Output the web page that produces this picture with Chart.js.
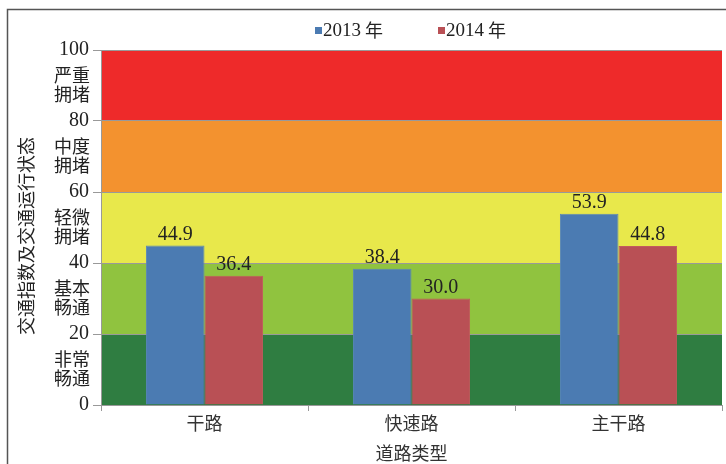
<!DOCTYPE html>
<html>
<head>
<meta charset="utf-8">
<script src="https://cdn.jsdelivr.net/npm/chart.js@4.4.1/dist/chart.umd.min.js"></script>
<style>
  html, body { margin: 0; padding: 0; background: #fff; }
  #wrap { width: 726px; height: 464px; position: relative; }
</style>
</head>
<body>
<div id="wrap"><canvas id="myChart" width="726" height="464"></canvas></div>
<script>
const roadTypes = ['干路', '快速路', '主干路'];
const index2013 = [44.9, 38.4, 53.9];
const index2014 = [36.4, 30.0, 44.8];
const seriesNames = ['2013 年', '2014 年'];
const yTicks = [0, 20, 40, 60, 80, 100];
// traffic state bands, bottom to top
const bandNames = [['非常', '畅通'], ['基本', '畅通'], ['轻微', '拥堵'], ['中度', '拥堵'], ['严重', '拥堵']];
const bandColors = ['#2f7d41', '#90c33f', '#e8e84b', '#f3922f', '#ee2a2a'];

const serif = "'Liberation Serif', 'Times New Roman', 'Noto Sans CJK SC', serif";
const cjk = "'Noto Sans CJK SC', 'Noto Sans', sans-serif";

const bandPlugin = {
  id: 'bands',
  beforeDraw(chart) {
    const { ctx, chartArea, scales } = chart;
    const y = scales.y;
    ctx.save();
    // frame
    ctx.strokeStyle = '#555';
    ctx.lineWidth = 1.5;
    ctx.beginPath();
    ctx.moveTo(7.5, 464);
    ctx.lineTo(7.5, 9.5);
    ctx.lineTo(726, 9.5);
    ctx.stroke();
    // colored bands behind the bars
    for (let i = 0; i < bandColors.length; i++) {
      const top = y.getPixelForValue(yTicks[i + 1]);
      const bottom = y.getPixelForValue(yTicks[i]);
      ctx.fillStyle = bandColors[i];
      ctx.fillRect(chartArea.left, top, chartArea.right - chartArea.left, bottom - top);
    }
    ctx.restore();
  },
  afterDraw(chart) {
    const { ctx, scales } = chart;
    const y = scales.y;
    ctx.save();
    // band names between the tick numbers
    ctx.font = '18px ' + cjk;
    ctx.fillStyle = '#222';
    ctx.textAlign = 'right';
    ctx.textBaseline = 'middle';
    bandNames.forEach((lines, i) => {
      const mid = (y.getPixelForValue(yTicks[i]) + y.getPixelForValue(yTicks[i + 1])) / 2 - 1;
      ctx.fillText(lines[0], 90, mid - 9.5);
      ctx.fillText(lines[1], 90, mid + 9.5);
    });
    // axis title
    ctx.font = '18px ' + cjk;
    ctx.textAlign = 'center';
    ctx.translate(26, 236);
    ctx.rotate(-Math.PI / 2);
    ctx.fillText('交通指数及交通运行状态', 0, 0);
    ctx.restore();

    // legend
    ctx.save();
    ctx.textBaseline = 'middle';
    ctx.textAlign = 'left';
    const legendX = [315, 438];
    chart.data.datasets.forEach((ds, i) => {
      ctx.fillStyle = ds.backgroundColor;
      ctx.fillRect(legendX[i], 27, 7, 7);
      ctx.fillStyle = '#222';
      ctx.font = '19px ' + serif;
      ctx.fillText(ds.label.split(' ')[0], legendX[i] + 8, 31);
      const w = ctx.measureText(ds.label.split(' ')[0]).width;
      ctx.font = '18px ' + cjk;
      ctx.fillText('年', legendX[i] + 8 + w + 4, 30);
    });
    ctx.restore();

    // value labels over the bars
    ctx.save();
    ctx.font = '20px ' + serif;
    ctx.fillStyle = '#222';
    ctx.textAlign = 'center';
    ctx.textBaseline = 'bottom';
    chart.data.datasets.forEach((ds, i) => {
      chart.getDatasetMeta(i).data.forEach((bar, j) => {
        ctx.fillText(ds.data[j].toFixed(1), bar.x, bar.y - 1);
      });
    });
    ctx.restore();
  }
};

new Chart(document.getElementById('myChart'), {
  type: 'bar',
  data: {
    labels: roadTypes,
    datasets: [
      { label: seriesNames[0], data: index2013, backgroundColor: '#4b7bb2', borderColor: '#5a86bb', borderWidth: 1 },
      { label: seriesNames[1], data: index2014, backgroundColor: '#b95055', borderColor: '#c25b5e', borderWidth: 1 }
    ]
  },
  options: {
    responsive: false,
    animation: false,
    layout: { padding: { top: 50, right: 4, left: 0, bottom: 0 } },
    plugins: {
      legend: { display: false },
      tooltip: { enabled: false }
    },
    datasets: {
      bar: { categoryPercentage: 0.566, barPercentage: 1 }
    },
    scales: {
      x: {
        afterFit(scale) { scale.height = 59; },
        grid: { offset: true, drawOnChartArea: false, color: '#999', tickLength: 6 },
        border: { color: '#999' },
        ticks: { font: { family: cjk, size: 18 }, color: '#333', padding: 1 },
        title: { display: true, text: '道路类型', font: { family: cjk, size: 18 }, color: '#333', padding: { top: 1, bottom: 0 } }
      },
      y: {
        min: 0,
        max: 100,
        afterFit(scale) { scale.width = 101; },
        afterBuildTicks(scale) { scale.ticks = yTicks.map(v => ({ value: v })); },
        grid: { color: '#999', tickLength: 8 },
        border: { color: '#999' },
        ticks: { font: { family: serif, size: 20 }, color: '#222', padding: 4 }
      }
    }
  },
  plugins: [bandPlugin]
});
</script>
</body>
</html>
